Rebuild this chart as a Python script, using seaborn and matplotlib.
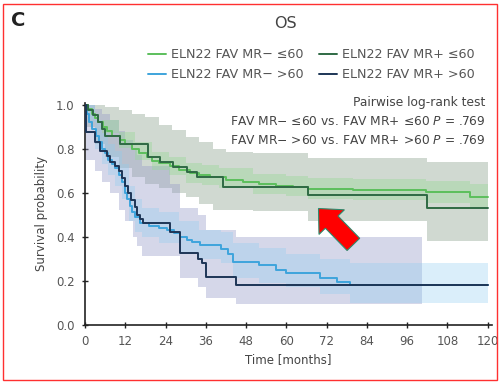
import numpy as np
import pandas as pd
import matplotlib
matplotlib.use("Agg")
import matplotlib.pyplot as plt
from matplotlib.patches import Rectangle, Polygon
import seaborn as sns

# ---- Kaplan-Meier step estimates (time in months, survival probability) ----
grp_labels = ["ELN22 FAV MR\u2212 \u226460", "ELN22 FAV MR+ \u226460",
              "ELN22 FAV MR\u2212 >60", "ELN22 FAV MR+ >60"]

t_neg_le60 = [0, 1, 2, 3, 4, 5.5, 6.5, 8, 10.4, 12, 14, 16, 18.4, 20, 22, 25.3,
              28, 31.3, 34, 37.2, 42, 47, 52, 57, 62, 66.4, 80, 101.7, 114.6, 120]
s_neg_le60 = [1.0, 0.98, 0.96, 0.94, 0.92, 0.90, 0.88, 0.86, 0.84, 0.82, 0.80, 0.78,
              0.76, 0.745, 0.735, 0.72, 0.705, 0.69, 0.68, 0.67, 0.658, 0.648, 0.638,
              0.632, 0.627, 0.617, 0.612, 0.605, 0.582, 0.582]

t_pos_le60 = [0, 1, 2.5, 4, 5, 6, 10.4, 18.9, 22.3, 26.2, 30.3, 33.3, 41.2, 66.4, 102, 120]
s_pos_le60 = [1.0, 0.976, 0.953, 0.923, 0.89, 0.86, 0.82, 0.764, 0.74, 0.718, 0.695,
              0.67, 0.627, 0.59, 0.53, 0.53]

t_neg_gt60 = [0, 0.5, 1.2, 2, 3.2, 4.2, 5, 6, 7, 8, 9, 10, 11, 11.8, 12.5, 13.3, 14,
              15, 16.4, 19, 22, 24.3, 26.5, 28.3, 30.5, 32, 34.2, 40.5, 42.5, 44.2,
              52, 57, 60, 70, 75, 79, 120]
s_neg_gt60 = [1.0, 0.96, 0.92, 0.89, 0.86, 0.83, 0.80, 0.78, 0.75, 0.73, 0.71, 0.68,
              0.65, 0.60, 0.57, 0.54, 0.51, 0.49, 0.46, 0.45, 0.44, 0.43, 0.415, 0.40,
              0.385, 0.375, 0.362, 0.345, 0.32, 0.285, 0.27, 0.25, 0.235, 0.21, 0.195,
              0.18, 0.18]

t_pos_gt60 = [0, 0.3, 3, 4.5, 6.5, 7.5, 9, 10, 11, 12, 12.8, 13.8, 14.8, 15.5, 16.3,
              17.2, 25.2, 28.2, 33.6, 35.0, 36.0, 45.0, 120]
s_pos_gt60 = [1.0, 0.875, 0.83, 0.79, 0.765, 0.74, 0.72, 0.70, 0.665, 0.63, 0.60,
              0.565, 0.535, 0.50, 0.48, 0.46, 0.423, 0.325, 0.30, 0.28, 0.218, 0.18, 0.18]

# ---- 95% confidence bands (step functions) ----
ci_t_neg_le60 = [0, 5, 10, 15, 20, 25, 30, 35, 40, 50, 60, 66.4, 80, 101.7, 114.6, 120]
ci_lo_neg_le60 = [1.0, 0.87, 0.805, 0.75, 0.705, 0.68, 0.645, 0.635, 0.62, 0.595,
                  0.585, 0.57, 0.565, 0.555, 0.525, 0.525]
ci_hi_neg_le60 = [1.0, 0.93, 0.875, 0.83, 0.785, 0.76, 0.735, 0.725, 0.71, 0.685,
                  0.675, 0.665, 0.66, 0.655, 0.64, 0.64]

ci_t_pos_le60 = [0, 3, 6, 10, 14, 18, 22, 26, 30, 34, 38, 42, 50, 66.4, 102, 120]
ci_lo_pos_le60 = [0.9, 0.82, 0.76, 0.71, 0.67, 0.64, 0.62, 0.60, 0.58, 0.55, 0.52,
                  0.52, 0.515, 0.47, 0.38, 0.38]
ci_hi_pos_le60 = [1.0, 1.0, 0.99, 0.975, 0.96, 0.945, 0.91, 0.885, 0.855, 0.83, 0.80,
                  0.785, 0.78, 0.757, 0.74, 0.74]

ci_t_neg_gt60 = [0, 1, 3, 5, 7, 9, 11, 13, 15, 17, 22, 28, 34, 40.5, 44.2, 52, 60,
                 70, 79, 120]
ci_lo_neg_gt60 = [1.0, 0.92, 0.80, 0.73, 0.68, 0.63, 0.57, 0.47, 0.42, 0.40, 0.37,
                  0.33, 0.30, 0.28, 0.21, 0.19, 0.17, 0.14, 0.10, 0.10]
ci_hi_neg_gt60 = [1.0, 1.0, 0.93, 0.87, 0.82, 0.79, 0.73, 0.63, 0.57, 0.53, 0.51,
                  0.47, 0.43, 0.42, 0.37, 0.35, 0.32, 0.30, 0.28, 0.28]

ci_t_pos_gt60 = [0, 0.3, 3, 5, 7.5, 10, 12, 14.4, 15.4, 17, 25.2, 28.2, 33.6, 36, 45, 100.3]
ci_lo_pos_gt60 = [1.0, 0.75, 0.70, 0.65, 0.60, 0.52, 0.47, 0.40, 0.355, 0.31, 0.31,
                  0.21, 0.17, 0.12, 0.095, 0.095]
ci_hi_pos_gt60 = [1.0, 1.0, 0.98, 0.96, 0.93, 0.88, 0.84, 0.80, 0.77, 0.72, 0.64,
                  0.53, 0.50, 0.43, 0.40, 0.40]

x_ticks = [0, 12, 24, 36, 48, 60, 72, 84, 96, 108, 120]
y_ticks = [0.0, 0.2, 0.4, 0.6, 0.8, 1.0]

line_colors = {grp_labels[0]: "#5cbf5c", grp_labels[1]: "#2f6a44",
               grp_labels[2]: "#3ea4dc", grp_labels[3]: "#1d3556"}
band_styles = [  # (times, lower, upper, colour, alpha), drawn back to front
    (ci_t_pos_le60, ci_lo_pos_le60, ci_hi_pos_le60, "#a3b5a5", 0.50),
    (ci_t_pos_gt60, ci_lo_pos_gt60, ci_hi_pos_gt60, "#989cc8", 0.40),
    (ci_t_neg_gt60, ci_lo_neg_gt60, ci_hi_neg_gt60, "#8ccdf2", 0.32),
    (ci_t_neg_le60, ci_lo_neg_le60, ci_hi_neg_le60, "#94d894", 0.38),
]

frames = []
for lab, t, s in [(grp_labels[0], t_neg_le60, s_neg_le60),
                  (grp_labels[2], t_neg_gt60, s_neg_gt60),
                  (grp_labels[1], t_pos_le60, s_pos_le60),
                  (grp_labels[3], t_pos_gt60, s_pos_gt60)]:
    frames.append(pd.DataFrame({"time": t, "surv": s, "group": lab}))
km = pd.concat(frames, ignore_index=True)
hue_order = [grp_labels[0], grp_labels[2], grp_labels[1], grp_labels[3]]

sns.set_style("ticks")
plt.rcParams["font.family"] = ["DejaVu Sans"]

fig = plt.figure(figsize=(4.99, 3.82), dpi=100)
ax = fig.add_axes([0.1703, 0.1505, 0.8151, 0.5799])

for t, lo, hi, col, a in band_styles:
    ax.fill_between(t, lo, hi, step="post", color=col, alpha=a, lw=0, zorder=1)

sns.lineplot(data=km, x="time", y="surv", hue="group", hue_order=hue_order,
             palette=line_colors, estimator=None, sort=False,
             drawstyle="steps-post", linewidth=1.4, ax=ax, zorder=3)

ax.set_xlim(0, 121.2)
ax.set_ylim(0, 1.008)
ax.set_xticks(x_ticks)
ax.set_yticks(y_ticks)
ax.set_yticklabels([f"{v:.1f}" for v in y_ticks])
ax.tick_params(axis="both", direction="inout", length=5, width=1.0,
               labelsize=8.5, labelcolor="#555555", color="#222222", pad=5)
for side in ("left", "bottom"):
    ax.spines[side].set_linewidth(1.2)
    ax.spines[side].set_color("#222222")
sns.despine(ax=ax)
ax.set_xlabel("Time [months]", fontsize=8.5, color="#444444", labelpad=4)
ax.set_ylabel("Survival probability", fontsize=8.5, color="#444444", labelpad=6)

handles, labels = ax.get_legend_handles_labels()
ax.legend(handles, labels, ncol=2, frameon=False, fontsize=9.2,
          loc="center", bbox_to_anchor=(0.624, 0.831),
          bbox_transform=fig.transFigure, handlelength=1.4, handletextpad=0.4,
          columnspacing=1.2, labelspacing=0.55, labelcolor="#555555")

ax.text(0.985, 1.0, "Pairwise log-rank test", transform=ax.transAxes,
        ha="right", va="center", fontsize=8.8, color="#444444")
ax.text(0.985, 0.915, "FAV MR\u2212 \u226460 vs. FAV MR+ \u226460 $P$ = .769",
        transform=ax.transAxes, ha="right", va="center", fontsize=8.8, color="#444444")
ax.text(0.985, 0.83, "FAV MR\u2212 >60 vs. FAV MR+ >60 $P$ = .769",
        transform=ax.transAxes, ha="right", va="center", fontsize=8.8, color="#444444")

fig.text(285 / 499, 1 - 23 / 382, "OS", ha="center", va="center",
         fontsize=11.5, color="#444444")
fig.text(18 / 499, 1 - 20 / 382, "C", ha="center", va="center",
         fontsize=14, fontweight="bold", color="#222222")

# highlight arrow (outline given in figure pixels, y measured downward)
W, H = 499.0, 382.0
arrow_px = [(318.5, 208.5), (344.4, 209.8), (338.0, 216.0), (359.7, 238.3),
            (347.1, 250.5), (325.4, 228.2), (319.0, 234.4)]
fig.patches.append(Polygon([(x / W, 1 - y / H) for x, y in arrow_px], closed=True,
                           transform=fig.transFigure, facecolor="#ff0000",
                           edgecolor="#2e8b6e", linewidth=0.8, zorder=10))

# thin red frame around the panel
fig.patches.append(Rectangle((3 / W, 2 / H), 494 / W, 376 / H, transform=fig.transFigure,
                             fill=False, edgecolor="#ff3030", linewidth=1.0, zorder=10))

fig.savefig("out.png", dpi=100)
